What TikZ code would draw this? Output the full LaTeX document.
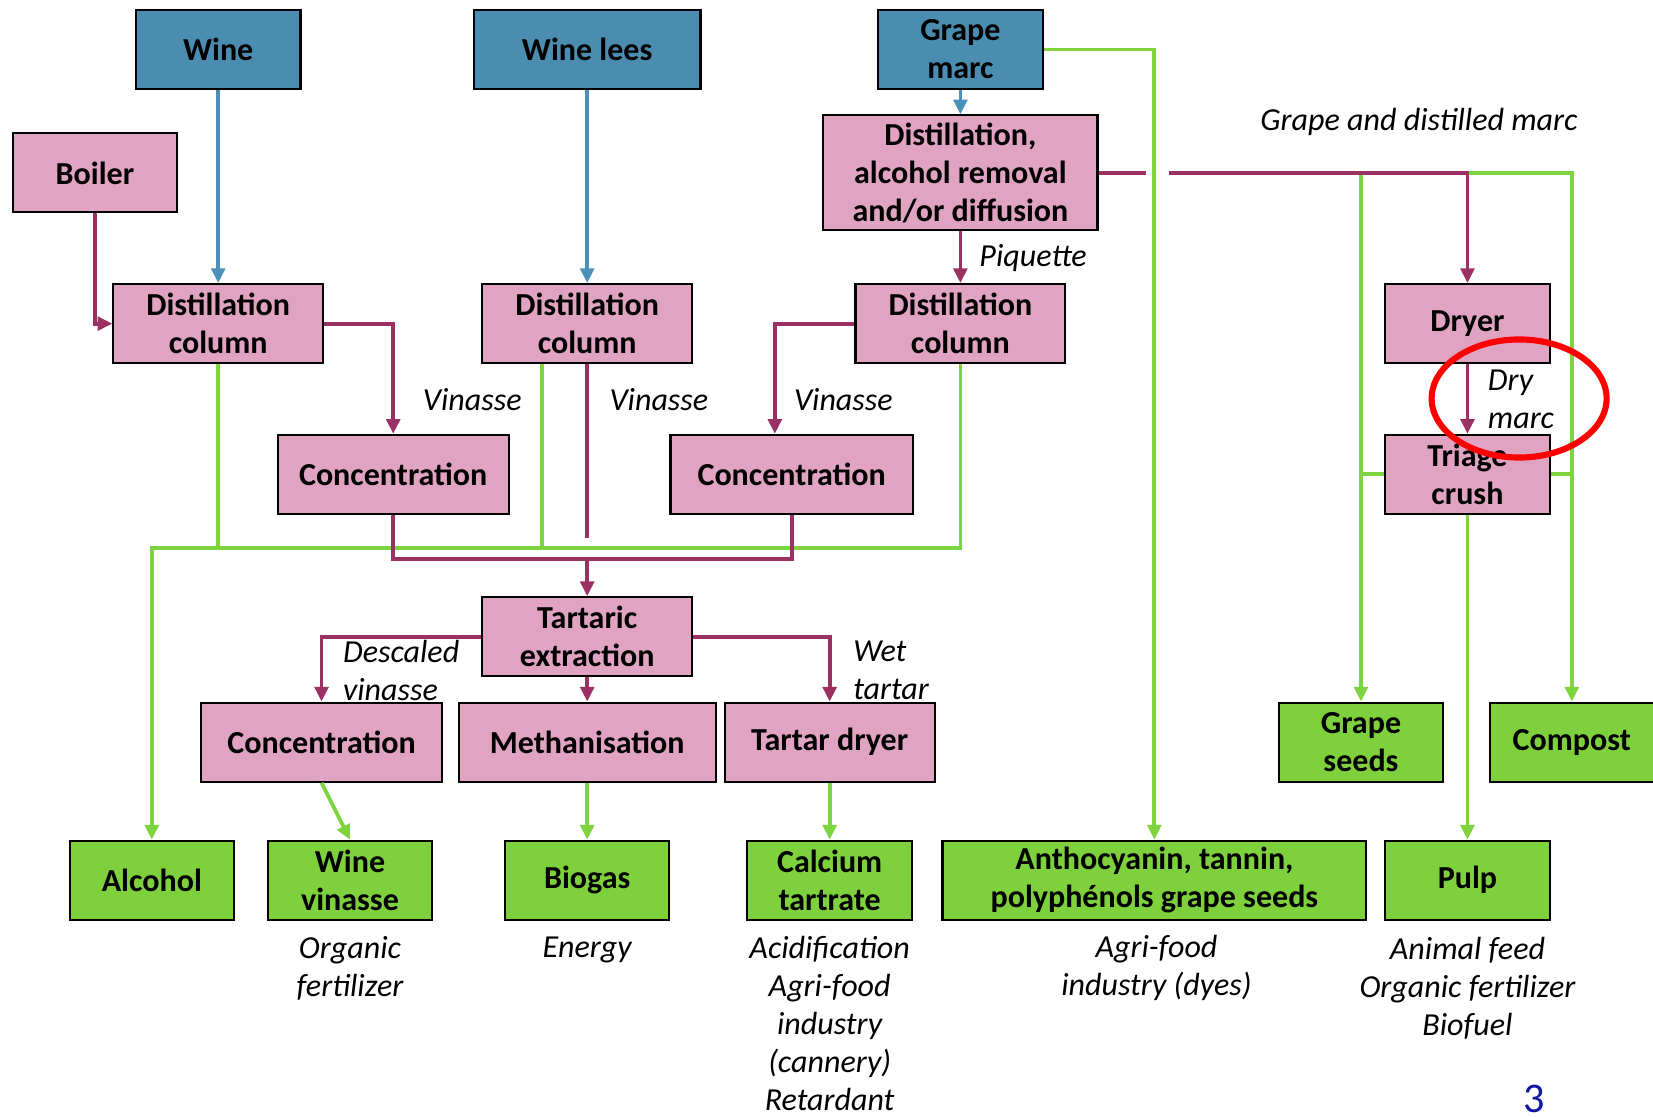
\documentclass[tikz,border=0pt]{standalone}
\usepackage{fontspec}
\setmainfont{Carlito}
\usetikzlibrary{arrows.meta}
\definecolor{srcblue}{RGB}{75,141,177}
\definecolor{procpink}{RGB}{224,163,194}
\definecolor{prodgreen}{RGB}{126,208,60}
\definecolor{flowplum}{RGB}{155,49,99}
\definecolor{flowblue}{RGB}{74,144,184}
\definecolor{flowgreen}{RGB}{126,212,62}
\definecolor{pagenum}{RGB}{20,20,165}
\tikzset{
    box/.style={draw=black, line width=1pt, align=center, inner sep=0pt,
    	minimum width=78pt, minimum height=37.5pt,
    	font=\bfseries\fontsize{15.2}{18}\selectfont},
    src/.style={box, fill=srcblue},
    proc/.style={box, fill=procpink},
    prod/.style={box, fill=prodgreen},
    note/.style={align=center, inner sep=0pt,
    	font=\itshape\fontsize{15.2}{18}\selectfont}
}
\tikzset{
    pline/.style={draw=flowplum, line width=1.8pt},
    gline/.style={draw=flowgreen, line width=1.8pt},
    parrow/.style={pline, -{Triangle[length=7pt,width=6.5pt]}},
    garrow/.style={gline, -{Triangle[length=7pt,width=6.5pt]}},
    barrow/.style={draw=flowblue, line width=1.8pt, -{Triangle[length=7pt,width=6.5pt]}}
}

\begin{document}
\begin{tikzpicture}[x=0.5pt, y=-0.5pt]
  \useasboundingbox (0,0) rectangle (1568,1059);

  \node (wine) [src] at (207,47) {Wine};
  \node (lees) [src, minimum width=107.5pt] at (557,47) {Wine lees};
  \node (marc) [src] at (911,47) {Grape\\marc};

  \node (boiler) [proc] at (90,164) {Boiler};
  \node (distil) [proc, minimum width=130pt, minimum height=54.5pt] at (911,164)
  	{Distillation,\\alcohol removal\\and/or diffusion};
  \node (dc1) [proc, minimum width=99.5pt] at (207,307) {Distillation\\column};
  \node (dc2) [proc, minimum width=99.5pt] at (557,307) {Distillation\\column};
  \node (dc3) [proc, minimum width=99.5pt] at (911,307) {Distillation\\column};
  \node (dryer) [proc] at (1392,307) {Dryer};
  \node (triage) [proc] at (1392,450) {Triage\\crush};
  \node (conc1) [proc, minimum width=109.5pt] at (373,450) {Concentration};
  \node (conc2) [proc, minimum width=115pt] at (751,450) {Concentration};
  \node (tartaric) [proc, minimum width=99.5pt] at (557,604) {Tartaric\\extraction};
  \node (conc3) [proc, minimum width=114pt] at (305,704) {Concentration};
  \node (metha) [proc, minimum width=122pt] at (557,704) {Methanisation};
  \node (tdryer) [proc, minimum width=99.5pt] at (787,704) {Tartar dryer};

  \node (seeds) [prod] at (1291,704) {Grape\\seeds};
  \node (compost) [prod] at (1491,704) {Compost};
  \node (alcohol) [prod] at (144,835) {Alcohol};
  \node (vinasse) [prod] at (332,835) {Wine\\vinasse};
  \node (biogas) [prod] at (557,835) {Biogas};
  \node (calcium) [prod] at (787,835) {Calcium\\tartrate};
  \node (antho) [prod, minimum width=201pt] at (1095,835)
  	{Anthocyanin, tannin,\\polyph\'enols grape seeds};
  \node (pulp) [prod] at (1392,835) {Pulp};

  \node (vin1) [note] at (448,379) {Vinasse};
  \node (vin2) [note] at (625,379) {Vinasse};
  \node (vin3) [note] at (800,379) {Vinasse};
  \node (piq) [note] at (980,245) {Piquette};
  \node (gdm) [note] at (1346,116) {Grape and distilled marc};
  \node (drym) [note, anchor=west, align=left] at (1411,379) {Dry\\marc};
  \node (desc) [note, anchor=west, align=left] at (325,636) {Descaled\\vinasse};
  \node (wet) [note, anchor=west, align=left] at (809,636) {Wet\\tartar};

  \node (use1) [note] at (332,919) {Organic\\fertilizer};
  \node (use2) [note] at (557,901) {Energy};
  \node (use3) [note] at (787,971) {Acidification\\Agri-food\\industry\\(cannery)\\Retardant};
  \node (use4) [note] at (1097,918) {Agri-food\\industry (dyes)};
  \node (use5) [note] at (1392,937) {Animal feed\\Organic fertilizer\\Biofuel};
  \node (pnum) [inner sep=0pt, anchor=base, text=pagenum, font=\fontsize{20}{24}\selectfont]
  	at (1455,1055) {3};

  \coordinate (gbus) at (144,520);
  \coordinate (pbus) at (557,530);
  \coordinate (dc2end) at (557,510);
  \coordinate (gapL) at (1087,164);
  \coordinate (gapR) at (1109,164);
  \coordinate (seedtop) at (1291,164);

  \draw[barrow] (wine.south) -- (dc1.north);
  \draw[barrow] (lees.south) -- (dc2.north);
  \draw[barrow] (marc.south) -- (distil.north);

  \draw[garrow] (dc3.south) |- (gbus) -- (alcohol.north);
  \draw[gline] (dc1.south) -- (dc1.south |- gbus);
  \draw[gline] ([xshift=-21.5pt]dc2.south) -- ([xshift=-21.5pt]dc2.south |- gbus);
  \draw[garrow] (marc.east) -| (antho.north);
  \draw[garrow] (seedtop) -- (seeds.north);
  \draw[garrow] (dryer.north |- gapR) -| (compost.north);
  \draw[gline] (triage.west) -- (triage.west -| seeds.north);
  \draw[gline] (triage.east) -- (triage.east -| compost.north);
  \draw[garrow] (triage.south) -- (pulp.north);
  \draw[garrow] (conc3.south) -- (vinasse.north);
  \draw[garrow] (metha.south) -- (biogas.north);
  \draw[garrow] (tdryer.south) -- (calcium.north);

  \draw[parrow] (boiler.south) |- (dc1.west);
  \draw[parrow] (dc1.east) -| (conc1.north);
  \draw[pline] (dc2.south) -- (dc2end);
  \draw[parrow] (dc3.west) -| ([xshift=-8pt]conc2.north);
  \draw[parrow] (distil.south) -- (dc3.north);
  \draw[pline] (conc1.south) -- (conc1.south |- pbus) -- (conc2.south |- pbus)
  	-- (conc2.south);
  \draw[parrow] (pbus) -- (tartaric.north);
  \draw[pline] (distil.east) -- (gapL);
  \draw[parrow] (gapR) -| (dryer.north);
  \draw[parrow] (dryer.south) -- (triage.north);
  \draw[parrow] (tartaric.west) -| (conc3.north);
  \draw[parrow] (tartaric.south) -- (metha.north);
  \draw[parrow] (tartaric.east) -| (tdryer.north);

  \draw[red, line width=2.9pt] (1441,378) ellipse [x radius=41.5pt, y radius=28pt];
\end{tikzpicture}
\end{document}
